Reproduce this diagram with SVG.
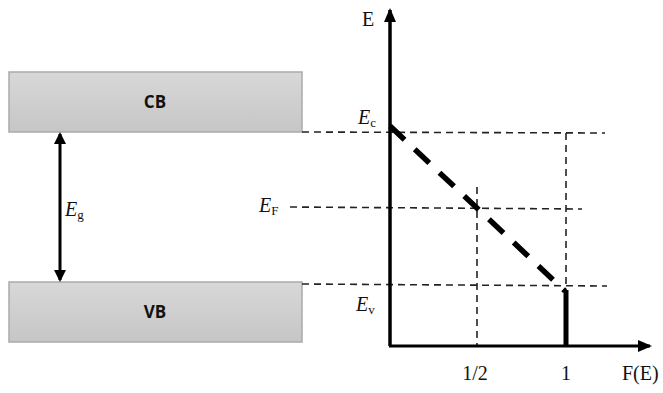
<svg xmlns="http://www.w3.org/2000/svg" width="663" height="393" viewBox="0 0 663 393">
<defs>
<linearGradient id="band" x1="0" y1="0" x2="0" y2="1">
<stop offset="0" stop-color="#d8d8d8"/>
<stop offset="1" stop-color="#c6c6c6"/>
</linearGradient>
<marker id="ah" markerWidth="12" markerHeight="12" refX="10" refY="6" orient="auto-start-reverse" markerUnits="userSpaceOnUse">
<path d="M0,0 L12,6 L0,12 Z" fill="#000"/>
</marker>
<marker id="axh" markerWidth="14" markerHeight="14" refX="12" refY="7" orient="auto" markerUnits="userSpaceOnUse">
<path d="M0,1 L14,7 L0,13 Z" fill="#000"/>
</marker>
</defs>
<style>
.band{fill:url(#band);stroke:#aaaaaa;stroke-width:1.5}
.bl{font-family:"Open Sans","Liberation Sans",sans-serif;font-weight:bold;font-size:17px;fill:#111;text-anchor:middle}
.ser{font-family:"Liberation Serif",serif;font-size:20px;fill:#111}
.it{font-style:italic}
.sub{font-size:13px}
.dash{stroke:#222;stroke-width:1.6;stroke-dasharray:7,5;fill:none}
</style>
<g id="cb"><rect class="band" x="9" y="72" width="293" height="60"/><text class="bl" x="155" y="108">CB</text></g>
<g id="vb"><rect class="band" x="9" y="282" width="293" height="60"/><text class="bl" x="155" y="318">VB</text></g>
<g id="eg-label"><text class="ser it" x="65" y="216">E<tspan class="sub" font-style="normal" dy="3">g</tspan></text></g>
<g id="axis-labels">
<text class="ser" x="362" y="26">E</text>
<text class="ser it" x="358" y="124">E<tspan class="sub" font-style="normal" dy="3">c</tspan></text>
<text class="ser it" x="259" y="212">E<tspan class="sub" font-style="normal" dy="3">F</tspan></text>
<text class="ser it" x="356" y="311">E<tspan class="sub" font-style="normal" dy="3">v</tspan></text>
<text class="ser" x="475" y="380" text-anchor="middle">1/2</text>
<text class="ser" x="566" y="380" text-anchor="middle">1</text>
<text class="ser" x="622" y="380">F(E)</text>
</g>
<g id="connectors">
<line x1="60" y1="134" x2="60" y2="280" stroke="#000" stroke-width="3" marker-start="url(#ah)" marker-end="url(#ah)"/>
<line class="dash" x1="302" y1="132" x2="605" y2="133"/>
<line class="dash" x1="290" y1="207" x2="582" y2="209"/>
<line class="dash" x1="302" y1="284" x2="607" y2="286"/>
<line class="dash" x1="477" y1="187" x2="477" y2="346"/>
<line class="dash" x1="566" y1="133" x2="566" y2="292"/>
<line x1="390" y1="126" x2="565" y2="291" stroke="#000" stroke-width="5.5" stroke-dasharray="20,14"/>
<line x1="566" y1="290" x2="566" y2="346" stroke="#000" stroke-width="5"/>
<line x1="390" y1="346" x2="390" y2="10" stroke="#000" stroke-width="3.5" marker-end="url(#axh)"/>
<line x1="389" y1="346" x2="650" y2="346" stroke="#000" stroke-width="3" marker-end="url(#axh)"/>
</g>
</svg>
